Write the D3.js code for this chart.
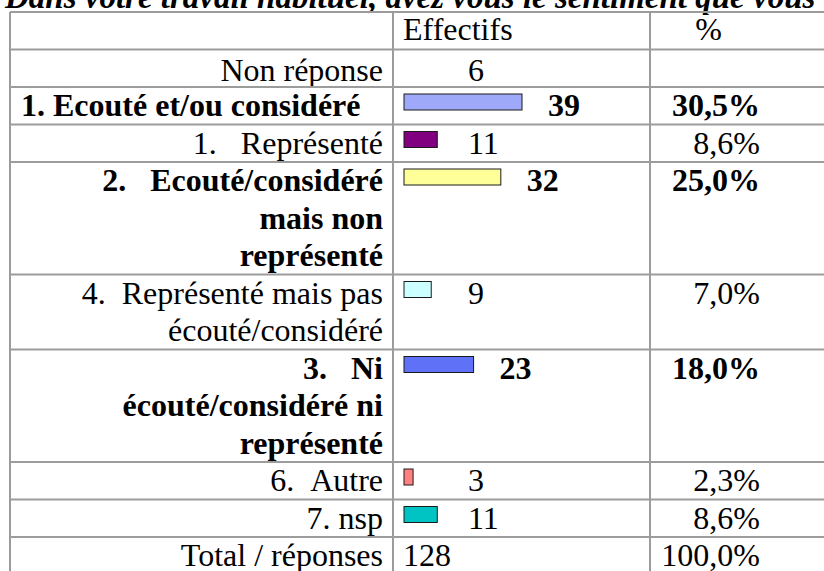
<!DOCTYPE html>
<html>
<head>
<meta charset="utf-8">
<script src="https://cdn.jsdelivr.net/npm/d3@7"></script>
<style>
  html, body { margin: 0; padding: 0; background: #fff; overflow: hidden; }
  svg text { font-family: "Liberation Serif", "Times New Roman", serif; white-space: pre; }
</style>
</head>
<body>
<div id="chart"></div>
<script>
// Données du tableau
const title = "Dans votre travail habituel, avez vous le sentiment que vous êtes :";
const headers = ["", "Effectifs", "%"];
const labels = [
    ["Non réponse"],
    ["1. Ecouté et/ou considéré"],
    ["1.\u00a0\u00a0\u00a0Représenté"],
    ["2.\u00a0\u00a0\u00a0Ecouté/considéré", "mais non", "représenté"],
    ["4.\u00a0\u00a0Représenté mais pas", "écouté/considéré"],
    ["3.\u00a0\u00a0\u00a0Ni", "écouté/considéré ni", "représenté"],
    ["6.\u00a0\u00a0Autre"],
    ["7. nsp"],
    ["Total / réponses"]
];
const bold     = [false, true, false, true, false, true, false, false, false];
const counts   = [6, 39, 11, 32, 9, 23, 3, 11, 128];
const percents = ["", "30,5%", "8,6%", "25,0%", "7,0%", "18,0%", "2,3%", "8,6%", "100,0%"];
const hasBar   = [false, true, true, true, true, true, true, true, false];
const barColors = [null, "#9ea9fa", "#800080", "#ffff99", "#ccffff", "#5f72f7", "#ff8080", "#00c4c4", null];

const W = 824, H = 571;
const fontSize = 32;
const lineH    = 37.5;
const tableX   = 10, tableTop = 12;
const col1 = 393, col2 = 650;
const lineColor = "#9c9c9c";

const svg = d3.select("#chart").append("svg")
    .attr("width", W).attr("height", H);

// Titre (coupé en haut comme dans l'original)
svg.append("text")
    .attr("x", 5).attr("y", 8)
    .style("font-size", "33px")
    .style("font-weight", "bold").style("font-style", "italic")
    .text(title);

// Positions des lignes
const rowTops = [];
let y = tableTop + lineH; // après l'en-tête
labels.forEach(l => { rowTops.push(y); y += l.length * lineH; });
const tableBottom = y;

const x = d3.scaleLinear().domain([0, 39]).range([0, 118]);

const g = svg.append("g");

// En-tête
g.append("text").attr("x", col1 + 10).attr("y", tableTop + 28)
    .style("font-size", fontSize + "px").text(headers[1]);
g.append("text").attr("x", 722).attr("y", tableTop + 28)
    .attr("text-anchor", "end")
    .style("font-size", fontSize + "px").text(headers[2]);

const rows = g.selectAll("g.row").data(labels.map((l, i) => ({ l, i }))).join("g")
    .attr("class", "row")
    .attr("transform", d => `translate(0,${rowTops[d.i]})`);

const baseY = d => d.i === 0 ? 31 : 29;

// Libellés
rows.each(function(d) {
    const sel = d3.select(this);
    d.l.forEach((line, k) => {
        const leftAligned = d.i === 1;
        sel.append("text")
            .attr("x", leftAligned ? 21 : 383)
            .attr("y", baseY(d) + k * lineH)
            .attr("text-anchor", leftAligned ? "start" : "end")
            .style("font-size", fontSize + "px")
            .style("font-weight", bold[d.i] ? "bold" : "normal")
            .text(line);
    });
});

// Barres
rows.filter(d => hasBar[d.i]).append("rect")
    .attr("x", 404).attr("y", 7)
    .attr("width", d => x(counts[d.i])).attr("height", 16)
    .attr("fill", d => barColors[d.i])
    .attr("stroke", "#1a1a1a").attr("stroke-width", 1);

// Effectifs
rows.append("text")
    .attr("x", d => {
        if (d.i === labels.length - 1) return col1 + 10;
        if (!hasBar[d.i]) return 468;
        return Math.max(468, 404 + x(counts[d.i]) + 26);
    })
    .attr("y", baseY)
    .style("font-size", fontSize + "px")
    .style("font-weight", d => bold[d.i] ? "bold" : "normal")
    .text(d => counts[d.i]);

// Pourcentages
rows.append("text")
    .attr("x", 760).attr("y", baseY)
    .attr("text-anchor", "end")
    .style("font-size", fontSize + "px")
    .style("font-weight", d => bold[d.i] ? "bold" : "normal")
    .text(d => percents[d.i]);

// Grille
const hLines = [tableTop, ...rowTops, tableBottom];
g.selectAll("line.h").data(hLines).join("line")
    .attr("class", "h")
    .attr("x1", tableX).attr("x2", W + 10)
    .attr("y1", d => d).attr("y2", d => d)
    .attr("stroke", lineColor).attr("stroke-width", 2);

g.selectAll("line.v").data([tableX, col1, col2]).join("line")
    .attr("class", "v")
    .attr("x1", d => d).attr("x2", d => d)
    .attr("y1", tableTop).attr("y2", tableBottom)
    .attr("stroke", lineColor).attr("stroke-width", 2);
</script>
</body>
</html>
